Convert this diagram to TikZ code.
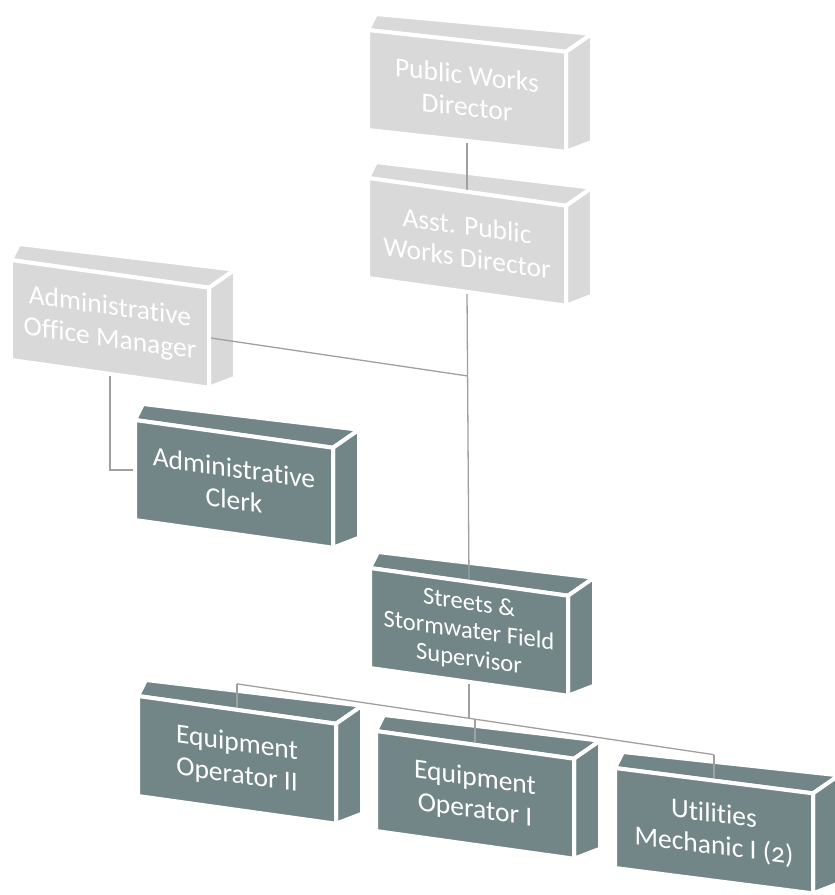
\documentclass[tikz,border=0pt]{standalone}
\usepackage{fontspec}
\setmainfont{Carlito}[Numbers=OldStyle,Ligatures=NoCommon]
\usepackage{xcolor}
\usetikzlibrary{calc}
\usetikzlibrary{positioning}

\definecolor{paleface}{RGB}{217,217,217}
\definecolor{slateface}{RGB}{115,134,135}
\definecolor{linkgray}{RGB}{160,160,160}

\pgfdeclarelayer{back}
\pgfdeclarelayer{links}
\pgfsetlayers{back,links,main}

\tikzset{
  front/.style={anchor=north west, yslant=#1, minimum width=198pt, minimum height=100pt,
    inner sep=0pt, outer sep=0pt, align=center, text=white, draw=white, line width=4pt,
    font=\fontsize{27.5}{32}\selectfont},
  front/.default=-0.14,
  pale/.style={fill=paleface},
  slate/.style={fill=slateface},
  facepoly/.style={draw=white, line width=4pt},
  linkline/.style={draw=linkgray, line width=1.3pt},
}

\begin{document}
\begin{tikzpicture}[x=1pt, y=-1pt]
\useasboundingbox (0,0) rectangle (835,895);
\node[front=-0.11,pale] (pwd) at (368,30) {Public Works\\Director};
\node[front,pale] (apwd) at (368,178) {Asst. Public\\Works Director};
\node[front,pale] (aom) at (11,260) {Administrative\\Office Manager};
\node[front,slate] (clerk) at (135,420) {Administrative\\Clerk};
%%%%%%%%%%%%%%%%%%%%%%%%%%%%%%%%%%%%%
\node[front,slate,font=\fontsize{24.5}{28}\selectfont] (ssfs) at (370,568) {Streets \&\\Stormwater Field\\Supervisor};
%%%%%%%%%%%%%%%%%%%%%%%%%%%%%%%%%%%%%
\node[front,slate] (eo2) at (138,696) {Equipment\\Operator II};
\node[front,slate] (eo1) at (376,731) {Equipment\\Operator I};
\node[front=-0.128,slate] (um) at (615,768) {Utilities\\Mechanic I (2)};
%%%%%%%%%%%%%%%%%%%%%%%%%%%%%%%%%%%%%
\coordinate (jn) at ($(apwd.south)!0.29!(ssfs.north)$);
\coordinate (b2) at ($(eo2.north)+(0,-26)$);
\coordinate (b1) at ($(eo1.north)+(0,-26)$);
\coordinate (bu) at ($(um.north)+(0,-26)$);
\coordinate (bs) at (ssfs.south |- b1);
%%%%%%%%%%%%%%%%%%%%%%%%%%%%%%%%%%%%%
\begin{pgfonlayer}{back}
\foreach \n/\c in {pwd/paleface,apwd/paleface,aom/paleface,clerk/slateface,ssfs/slateface,eo2/slateface,eo1/slateface,um/slateface}{
  \filldraw[facepoly,fill=\c] (\n.north west) -- (\n.north east) -- ++(26,-18) -- ($(\n.north west)+(8,-16)$) -- cycle;
  \filldraw[facepoly,fill=\c] (\n.north east) -- ++(26,-18) -- ($(\n.south east)+(26,-10)$) -- (\n.south east) -- cycle;
}
\end{pgfonlayer}
%%%%%%%%%%%%%%%%%%%%%%%%%%%%%%%%%%%%%
\begin{pgfonlayer}{links}
\draw[linkline] (pwd.south) -- (apwd.north);
\draw[linkline] (apwd.south) -- (ssfs.north);
\draw[linkline] (aom.east) -- (jn);
\draw[linkline] (aom.south) |- (clerk.west);
\draw[linkline] (ssfs.south) -- (bs);
\draw[linkline] (b2) -- (bu);
\draw[linkline] (b2) -- (eo2.north);
\draw[linkline] (b1) -- (eo1.north);
\draw[linkline] (bu) -- (um.north);
\end{pgfonlayer}
\end{tikzpicture}
\end{document}
